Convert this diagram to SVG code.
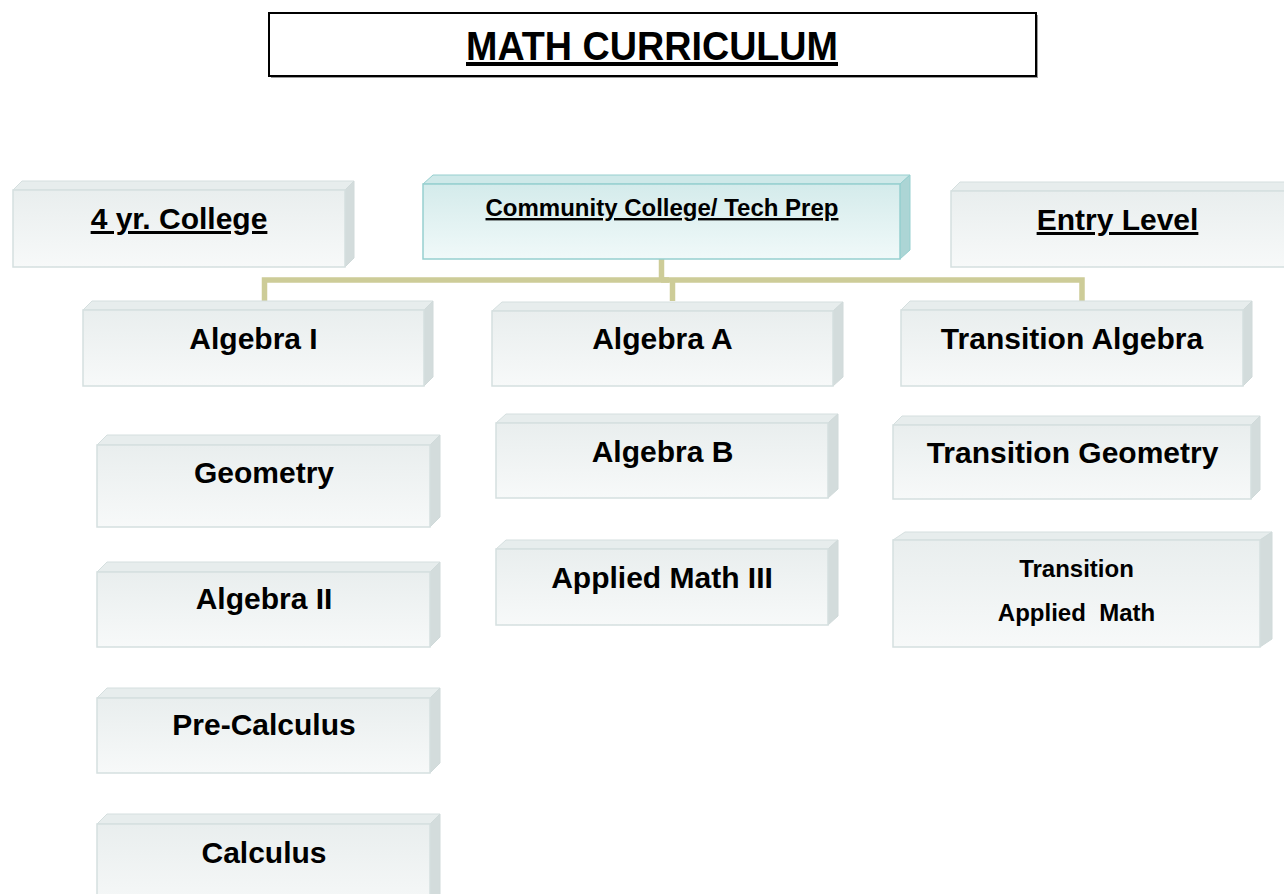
<svg xmlns="http://www.w3.org/2000/svg" width="1284" height="894" viewBox="0 0 1284 894">
<defs>
<linearGradient id="gf" x1="0" y1="0" x2="0" y2="1">
<stop offset="0" stop-color="#e9eeee"/>
<stop offset="1" stop-color="#f7f9f9"/>
</linearGradient>
<linearGradient id="gc" x1="0" y1="0" x2="0" y2="1">
<stop offset="0" stop-color="#d4ebeb"/>
<stop offset="1" stop-color="#f0f9f9"/>
</linearGradient>
<style>
.front{fill:url(#gf);stroke:#d5dfdf;stroke-width:1.5}
.top{fill:#e7eded;stroke:#d5dfdf;stroke-width:1}
.side{fill:#d3dcdc;stroke:#d0dada;stroke-width:1}
.cfront{fill:url(#gc);stroke:#96cfcf;stroke-width:1.5}
.ctop{fill:#cfe9e9;stroke:#96cfcf;stroke-width:1}
.cside{fill:#acd5d5;stroke:#96cfcf;stroke-width:1}
.t{font-family:"Liberation Sans",Arial,sans-serif;font-weight:bold;font-size:30px;fill:#000;text-anchor:middle}
.s{font-size:24px}
.u{text-decoration:underline}
.conn{fill:none;stroke:#cdcc98;stroke-width:5.5}
</style>
</defs>
<rect width="1284" height="894" fill="#ffffff"/>

<g id="title">
<rect x="271" y="15" width="767" height="63" fill="#9a9a9a"/>
<rect x="269" y="13" width="767" height="63" fill="#ffffff" stroke="#000" stroke-width="2"/>
<text x="652" y="60" font-family="'Liberation Sans Narrow','Liberation Sans',Arial,sans-serif" font-weight="bold" font-size="40" text-anchor="middle" textLength="372" lengthAdjust="spacingAndGlyphs" text-decoration="underline">MATH CURRICULUM</text>
</g>

<g id="connectors">
<polyline class="conn" points="661.5,259 661.5,280"/>
<polyline class="conn" points="264.5,301 264.5,280 669,280"/>
<polyline class="conn" points="661,280 1082,280 1082,301"/>
<polyline class="conn" points="672.5,280 672.5,301"/>
</g>

<g id="n4yr">
<polygon class="top" points="13,190 22,181 354,181 345,190"/>
<polygon class="side" points="345,190 354,181 354,258 345,267"/>
<rect class="front" x="13" y="190" width="332" height="77"/>
<text class="t u" x="179" y="229">4 yr. College</text>
</g>

<g id="ncc">
<polygon class="ctop" points="423,184 433,175 910,175 900,184"/>
<polygon class="cside" points="900,184 910,175 910,250 900,259"/>
<rect class="cfront" x="423" y="184" width="477" height="75"/>
<text class="t s u" x="662" y="216">Community College/ Tech Prep</text>
</g>

<g id="nentry">
<polygon class="top" points="951,191 960,182 1300,182 1291,191"/>
<rect class="front" x="951" y="191" width="340" height="76"/>
<text class="t u" x="1117.5" y="230">Entry Level</text>
</g>

<g id="nalg1">
<polygon class="top" points="83,310 92,301 433,301 424,310"/>
<polygon class="side" points="424,310 433,301 433,377 424,386"/>
<rect class="front" x="83" y="310" width="341" height="76"/>
<text class="t" x="253.5" y="349">Algebra I</text>
</g>

<g id="nalgA">
<polygon class="top" points="492,311 502,302 843,302 833,311"/>
<polygon class="side" points="833,311 843,302 843,377 833,386"/>
<rect class="front" x="492" y="311" width="341" height="75"/>
<text class="t" x="662.5" y="349">Algebra A</text>
</g>

<g id="ntalg">
<polygon class="top" points="901,310 910,301 1252,301 1243,310"/>
<polygon class="side" points="1243,310 1252,301 1252,377 1243,386"/>
<rect class="front" x="901" y="310" width="342" height="76"/>
<text class="t" x="1072" y="349">Transition Algebra</text>
</g>

<g id="ngeo">
<polygon class="top" points="97,445 107,435 440,435 430,445"/>
<polygon class="side" points="430,445 440,435 440,517 430,527"/>
<rect class="front" x="97" y="445" width="333" height="82"/>
<text class="t" x="264" y="483">Geometry</text>
</g>

<g id="nalg2">
<polygon class="top" points="97,572 107,562 440,562 430,572"/>
<polygon class="side" points="430,572 440,562 440,637 430,647"/>
<rect class="front" x="97" y="572" width="333" height="75"/>
<text class="t" x="264" y="609">Algebra II</text>
</g>

<g id="nprecalc">
<polygon class="top" points="97,698 107,688 440,688 430,698"/>
<polygon class="side" points="430,698 440,688 440,763 430,773"/>
<rect class="front" x="97" y="698" width="333" height="75"/>
<text class="t" x="264" y="735">Pre-Calculus</text>
</g>

<g id="ncalc">
<polygon class="top" points="97,824 107,814 440,814 430,824"/>
<polygon class="side" points="430,824 440,814 440,900 430,910"/>
<rect class="front" x="97" y="824" width="333" height="90"/>
<text class="t" x="264" y="863">Calculus</text>
</g>

<g id="nalgB">
<polygon class="top" points="496,423 506,414 838,414 828,423"/>
<polygon class="side" points="828,423 838,414 838,489 828,498"/>
<rect class="front" x="496" y="423" width="332" height="75"/>
<text class="t" x="662.5" y="462">Algebra B</text>
</g>

<g id="nam3">
<polygon class="top" points="496,549 506,540 838,540 828,549"/>
<polygon class="side" points="828,549 838,540 838,616 828,625"/>
<rect class="front" x="496" y="549" width="332" height="76"/>
<text class="t" x="662" y="588">Applied Math III</text>
</g>

<g id="ntgeo">
<polygon class="top" points="893,425 902,416 1260,416 1251,425"/>
<polygon class="side" points="1251,425 1260,416 1260,490 1251,499"/>
<rect class="front" x="893" y="425" width="358" height="74"/>
<text class="t" x="1072.5" y="463">Transition Geometry</text>
</g>

<g id="ntam">
<polygon class="top" points="893,540 905,532 1272,532 1260,540"/>
<polygon class="side" points="1260,540 1272,532 1272,639 1260,647"/>
<rect class="front" x="893" y="540" width="367" height="107"/>
<text class="t s" x="1076.5" y="577">Transition</text>
<text class="t s" x="1076.5" y="621" xml:space="preserve">Applied  Math</text>
</g>
</svg>
